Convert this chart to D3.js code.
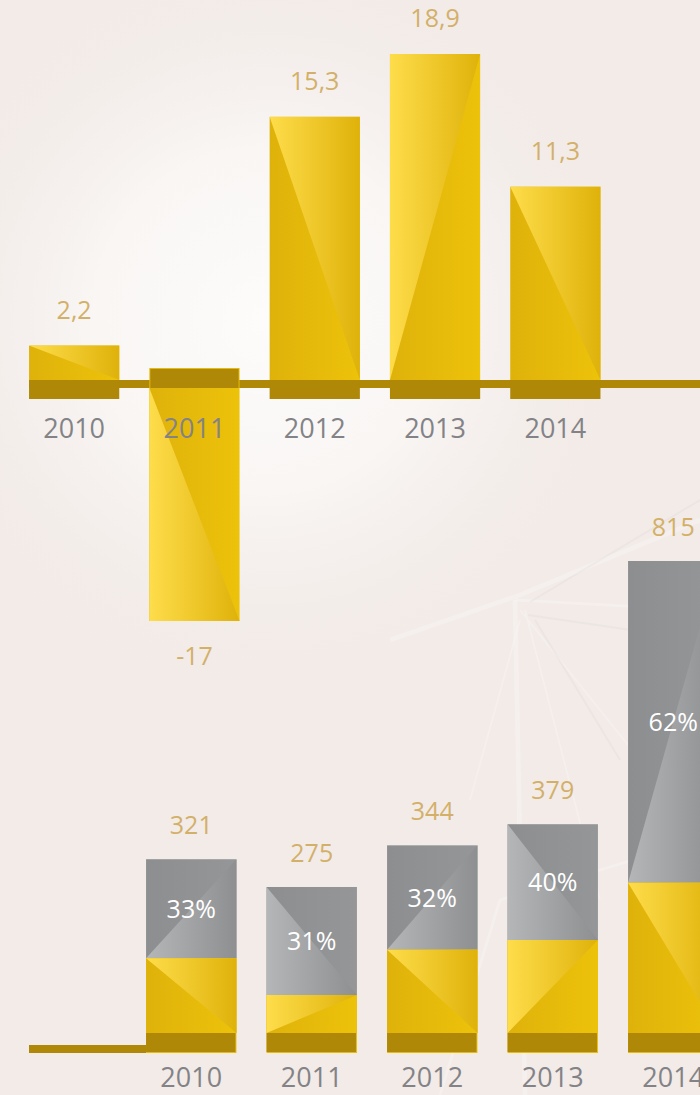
<!DOCTYPE html>
<html>
<head>
<meta charset="utf-8">
<script src="https://cdn.jsdelivr.net/npm/d3@7"></script>
<style>
  body { margin: 0; background: #f2ebe8; }
  svg text { font-family: "Open Sans", "DejaVu Sans", sans-serif; }
</style>
</head>
<body>
<div id="container"></div>
<script>
/* DATA */
const years = ["2010", "2011", "2012", "2013", "2014"]
const growth = [2.2, -17, 15.3, 18.9, 11.3]
const totals = [321, 275, 344, 379, 815]
const goldPart = [157, 96, 171, 187, 282]
const grayShare = [33, 31, 32, 40, 62]

/* CONSTANTS */
const width = 700,
  height = 1095

// which way the shiny diagonal runs on each bar ("down" = top-left to bottom-right)
const topDiag = [["down", "above"], ["down", "below"], ["down", "above"], ["up", "above"], ["down", "above"]]
const grayDiag = [["up", "below"], ["down", "below"], ["up", "below"], ["down", "below"], ["up", "below"]]
const goldDiag = [["down", "above"], ["up", "above"], ["down", "above"], ["up", "above"], ["down", "above"]]

const fmt = v => String(v).replace(".", ",")

const svg = d3.select("#container")
  .append("svg")
  .attr("width", width)
  .attr("height", height)

const defs = svg.append("defs")

function hGrad(id, c1, c2) {
  const g = defs.append("linearGradient").attr("id", id)
    .attr("x1", 0).attr("x2", 1).attr("y1", 0).attr("y2", 0)
  g.append("stop").attr("offset", 0).attr("stop-color", c1)
  g.append("stop").attr("offset", 1).attr("stop-color", c2)
}
hGrad("goldSolid", "#dfb20b", "#edc20a")
hGrad("goldLight", "#fedd4b", "#dfb20a")
hGrad("graySolid", "#8d8e90", "#959698")
hGrad("grayLight", "#b5b6b7", "#8e8f91")

const glow = defs.append("radialGradient").attr("id", "glow")
glow.append("stop").attr("offset", 0).attr("stop-color", "#fdfcfb")
glow.append("stop").attr("offset", 0.45).attr("stop-color", "#f9f6f4")
glow.append("stop").attr("offset", 1).attr("stop-color", "#f2ebe8").attr("stop-opacity", 0)

/* BACKGROUND */
svg.append("rect").attr("width", width).attr("height", height).attr("fill", "#f2ebe8")
svg.append("circle").attr("cx", 265).attr("cy", 320).attr("r", 380).attr("fill", "url(#glow)")

// faint roof structure in the lower right
const bgLines = svg.append("g").attr("stroke", "#ffffff").attr("stroke-opacity", 0.22).attr("fill", "none")
bgLines.append("path").attr("d", "M390,640 L520,595 L700,520").attr("stroke-width", 5)
bgLines.append("path").attr("d", "M515,600 L700,610").attr("stroke-width", 3)
bgLines.append("path").attr("d", "M515,600 L525,1095").attr("stroke-width", 5)
bgLines.append("path").attr("d", "M520,610 L640,760 M525,610 L600,900 M520,620 L470,800").attr("stroke-width", 2)
bgLines.append("path").attr("d", "M440,1095 L500,900 L700,840").attr("stroke-width", 3)
const bgDark = svg.append("g").attr("stroke", "#d9d3d0").attr("stroke-opacity", 0.2).attr("fill", "none")
bgDark.append("path").attr("d", "M530,602 L700,500 M528,615 L700,640 M535,620 L620,760").attr("stroke-width", 2)

/* SEGMENT DRAWING */
function segment(g, x, w, y0, y1, kind, diag) {
  g.append("rect")
    .attr("x", x).attr("y", y0)
    .attr("width", w).attr("height", y1 - y0)
    .attr("fill", `url(#${kind}Solid)`)
  const TL = [x, y0], TR = [x + w, y0], BL = [x, y1], BR = [x + w, y1]
  let pts
  if (diag[0] === "down") pts = diag[1] === "above" ? [TL, TR, BR] : [TL, BL, BR]
  else pts = diag[1] === "above" ? [BL, TL, TR] : [BL, BR, TR]
  g.append("polygon")
    .attr("points", pts.map(p => p.join(",")).join(" "))
    .attr("fill", `url(#${kind}Light)`)
}

const baseColor = "#ae8806"

/* TOP CHART */
const xTop = d3.scaleBand()
  .domain(years)
  .range([14, 615.5])
  .paddingInner(0.25)
  .paddingOuter(0.125)

const yTop = d3.scaleLinear()
  .domain([d3.min(growth), 0, d3.max(growth)])
  .range([621, 384, 54])

const zeroY = yTop(0)
const topG = svg.append("g")

topG.append("line")
  .attr("x1", xTop(years[0])).attr("x2", width)
  .attr("y1", zeroY).attr("y2", zeroY)
  .attr("stroke", baseColor).attr("stroke-width", 8)

growth.forEach((v, i) => {
  const x = xTop(years[i]), w = xTop.bandwidth()
  if (v >= 0) {
    segment(topG, x, w, yTop(v), zeroY - 4, "gold", topDiag[i])
    topG.append("rect").attr("x", x).attr("y", zeroY - 4)
      .attr("width", w).attr("height", 19).attr("fill", baseColor)
  } else {
    topG.append("rect").attr("x", x).attr("y", zeroY - 16)
      .attr("width", w).attr("height", 20).attr("fill", "#e6bb0a")
    segment(topG, x, w, zeroY + 4, yTop(v), "gold", topDiag[i])
    topG.append("rect").attr("x", x + 1).attr("y", zeroY - 15)
      .attr("width", w - 2).attr("height", 19).attr("fill", baseColor)
  }
})

topG.selectAll(".val")
  .data(growth)
  .join("text")
  .attr("class", "val")
  .attr("x", (d, i) => xTop(years[i]) + xTop.bandwidth() / 2)
  .attr("y", d => d >= 0 ? yTop(d) - 27 : yTop(d) + 44)
  .attr("text-anchor", "middle")
  .attr("font-size", 25)
  .attr("fill", "#d3b069")
  .text(fmt)

topG.selectAll(".year")
  .data(years)
  .join("text")
  .attr("class", "year")
  .attr("x", d => xTop(d) + xTop.bandwidth() / 2)
  .attr("y", 438)
  .attr("text-anchor", "middle")
  .attr("font-size", 27)
  .attr("fill", "#838387")
  .text(d => d)

/* BOTTOM CHART */
const xBot = d3.scaleBand()
  .domain(years)
  .range([131, 733.5])
  .paddingInner(0.25)
  .paddingOuter(0.125)

const yBot = d3.scaleLinear()
  .domain([0, d3.max(totals)])
  .range([1053, 561])

const botG = svg.append("g")

botG.append("line")
  .attr("x1", 29).attr("x2", xBot(years[0]))
  .attr("y1", yBot(0) - 4).attr("y2", yBot(0) - 4)
  .attr("stroke", baseColor).attr("stroke-width", 8)

totals.forEach((t, i) => {
  const x = xBot(years[i]), w = xBot.bandwidth()
  const base = yBot(0) - 20
  segment(botG, x, w, yBot(t), yBot(goldPart[i]), "gray", grayDiag[i])
  botG.append("rect").attr("x", x).attr("y", yBot(goldPart[i]))
    .attr("width", w).attr("height", yBot(0) - yBot(goldPart[i])).attr("fill", "#e8bd0a")
  segment(botG, x, w, yBot(goldPart[i]), base, "gold", goldDiag[i])
  botG.append("rect").attr("x", x).attr("y", base)
    .attr("width", w - 1).attr("height", 19).attr("fill", baseColor)
})

botG.selectAll(".tot")
  .data(totals)
  .join("text")
  .attr("class", "tot")
  .attr("x", (d, i) => xBot(years[i]) + xBot.bandwidth() / 2)
  .attr("y", d => yBot(d) - 25)
  .attr("text-anchor", "middle")
  .attr("font-size", 25)
  .attr("fill", "#d3b069")
  .text(d => d)

botG.selectAll(".pct")
  .data(grayShare)
  .join("text")
  .attr("class", "pct")
  .attr("x", (d, i) => xBot(years[i]) + xBot.bandwidth() / 2)
  .attr("y", (d, i) => (yBot(totals[i]) + yBot(goldPart[i])) / 2 + 9)
  .attr("text-anchor", "middle")
  .attr("font-size", 25)
  .attr("fill", "#ffffff")
  .text(d => d + "%")

botG.selectAll(".year")
  .data(years)
  .join("text")
  .attr("class", "year")
  .attr("x", d => xBot(d) + xBot.bandwidth() / 2)
  .attr("y", 1087)
  .attr("text-anchor", "middle")
  .attr("font-size", 27)
  .attr("fill", "#838387")
  .text(d => d)
</script>
</body>
</html>
